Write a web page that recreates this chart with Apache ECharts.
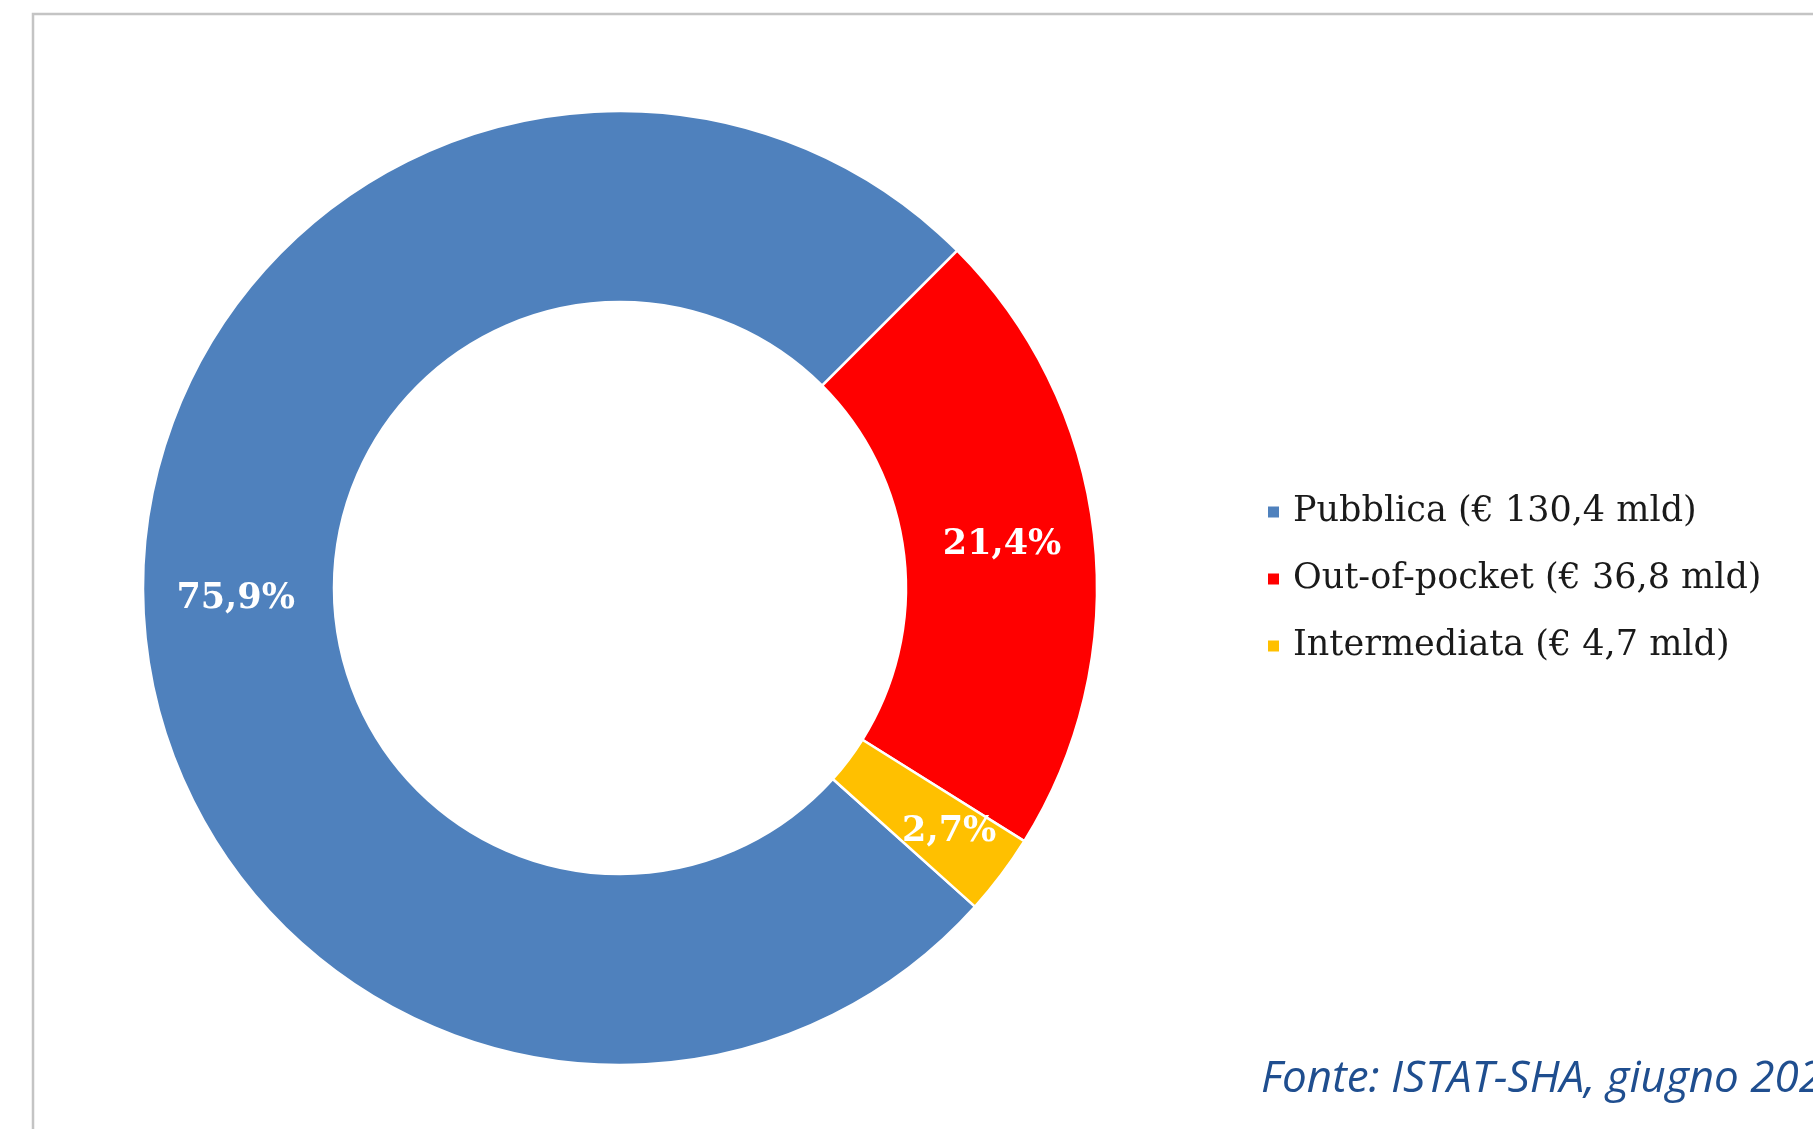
<!DOCTYPE html>
<html>
<head>
<meta charset="utf-8">
<title>Spesa sanitaria</title>
<script src="https://cdn.jsdelivr.net/npm/echarts@6/dist/echarts.min.js"></script>
<style>
  html, body { margin: 0; padding: 0; background: #ffffff; }
  #chart { width: 1813px; height: 1129px; }
</style>
</head>
<body>
<div id="chart"></div>
<script>
// Spending components (billion euro)
const categories = ['Pubblica', 'Out-of-pocket', 'Intermediata'];
const amounts = [130.4, 36.8, 4.7];
const colors = ['#4f81bd', '#ff0000', '#ffc000'];
const sourceNote = 'Fonte: ISTAT-SHA, giugno 2023';

const fmtComma = (v, d) => v.toFixed(d).replace('.', ',');

const pieData = categories.map((name, i) => {
  const item = { name: name, value: amounts[i], itemStyle: { color: colors[i] } };
  if (name === 'Intermediata') {
    item.label = { offset: [22, 13] };
  }
  return item;
});

const amountByName = {};
categories.forEach((c, i) => { amountByName[c] = amounts[i]; });

const chart = echarts.init(document.getElementById('chart'), null, { renderer: 'canvas' });

chart.setOption({
  animation: false,
  backgroundColor: '#ffffff',
  graphic: [
    {
      type: 'rect',
      shape: { x: 33, y: 14, width: 2200, height: 2200 },
      style: { fill: 'none', stroke: '#c4c4c4', lineWidth: 2.5 },
      silent: true,
      z: 0
    }
  ],
  title: {
    text: sourceNote,
    left: 1261,
    top: 1057,
    padding: 0,
    textStyle: {
      fontFamily: 'Open Sans',
      fontStyle: 'italic',
      fontWeight: 'normal',
      fontSize: 44,
      color: '#1f4e8f'
    }
  },
  legend: {
    orient: 'vertical',
    left: 1266,
    top: 492,
    padding: 0,
    itemWidth: 13,
    itemHeight: 13,
    itemGap: 27,
    icon: 'rect',
    data: categories,
    formatter: name => name + ' (€ ' + fmtComma(amountByName[name], 1) + ' mld)',
    textStyle: {
      fontFamily: 'DejaVu Serif',
      fontSize: 35,
      lineHeight: 40,
      color: '#1a1a1a',
      padding: [0, 0, 0, 8]
    }
  },
  series: [
    {
      type: 'pie',
      center: [620, 588],
      radius: [286, 477],
      startAngle: 318.1,
      clockwise: true,
      avoidLabelOverlap: false,
      data: pieData,
      itemStyle: { borderColor: '#ffffff', borderWidth: 2.5 },
      label: {
        show: true,
        position: 'inside',
        formatter: p => fmtComma(p.percent, 1) + '%',
        fontFamily: 'DejaVu Serif',
        fontWeight: 'bold',
        fontSize: 35,
        color: '#ffffff'
      },
      labelLine: { show: false },
      emphasis: { disabled: true }
    }
  ]
});
</script>
</body>
</html>
